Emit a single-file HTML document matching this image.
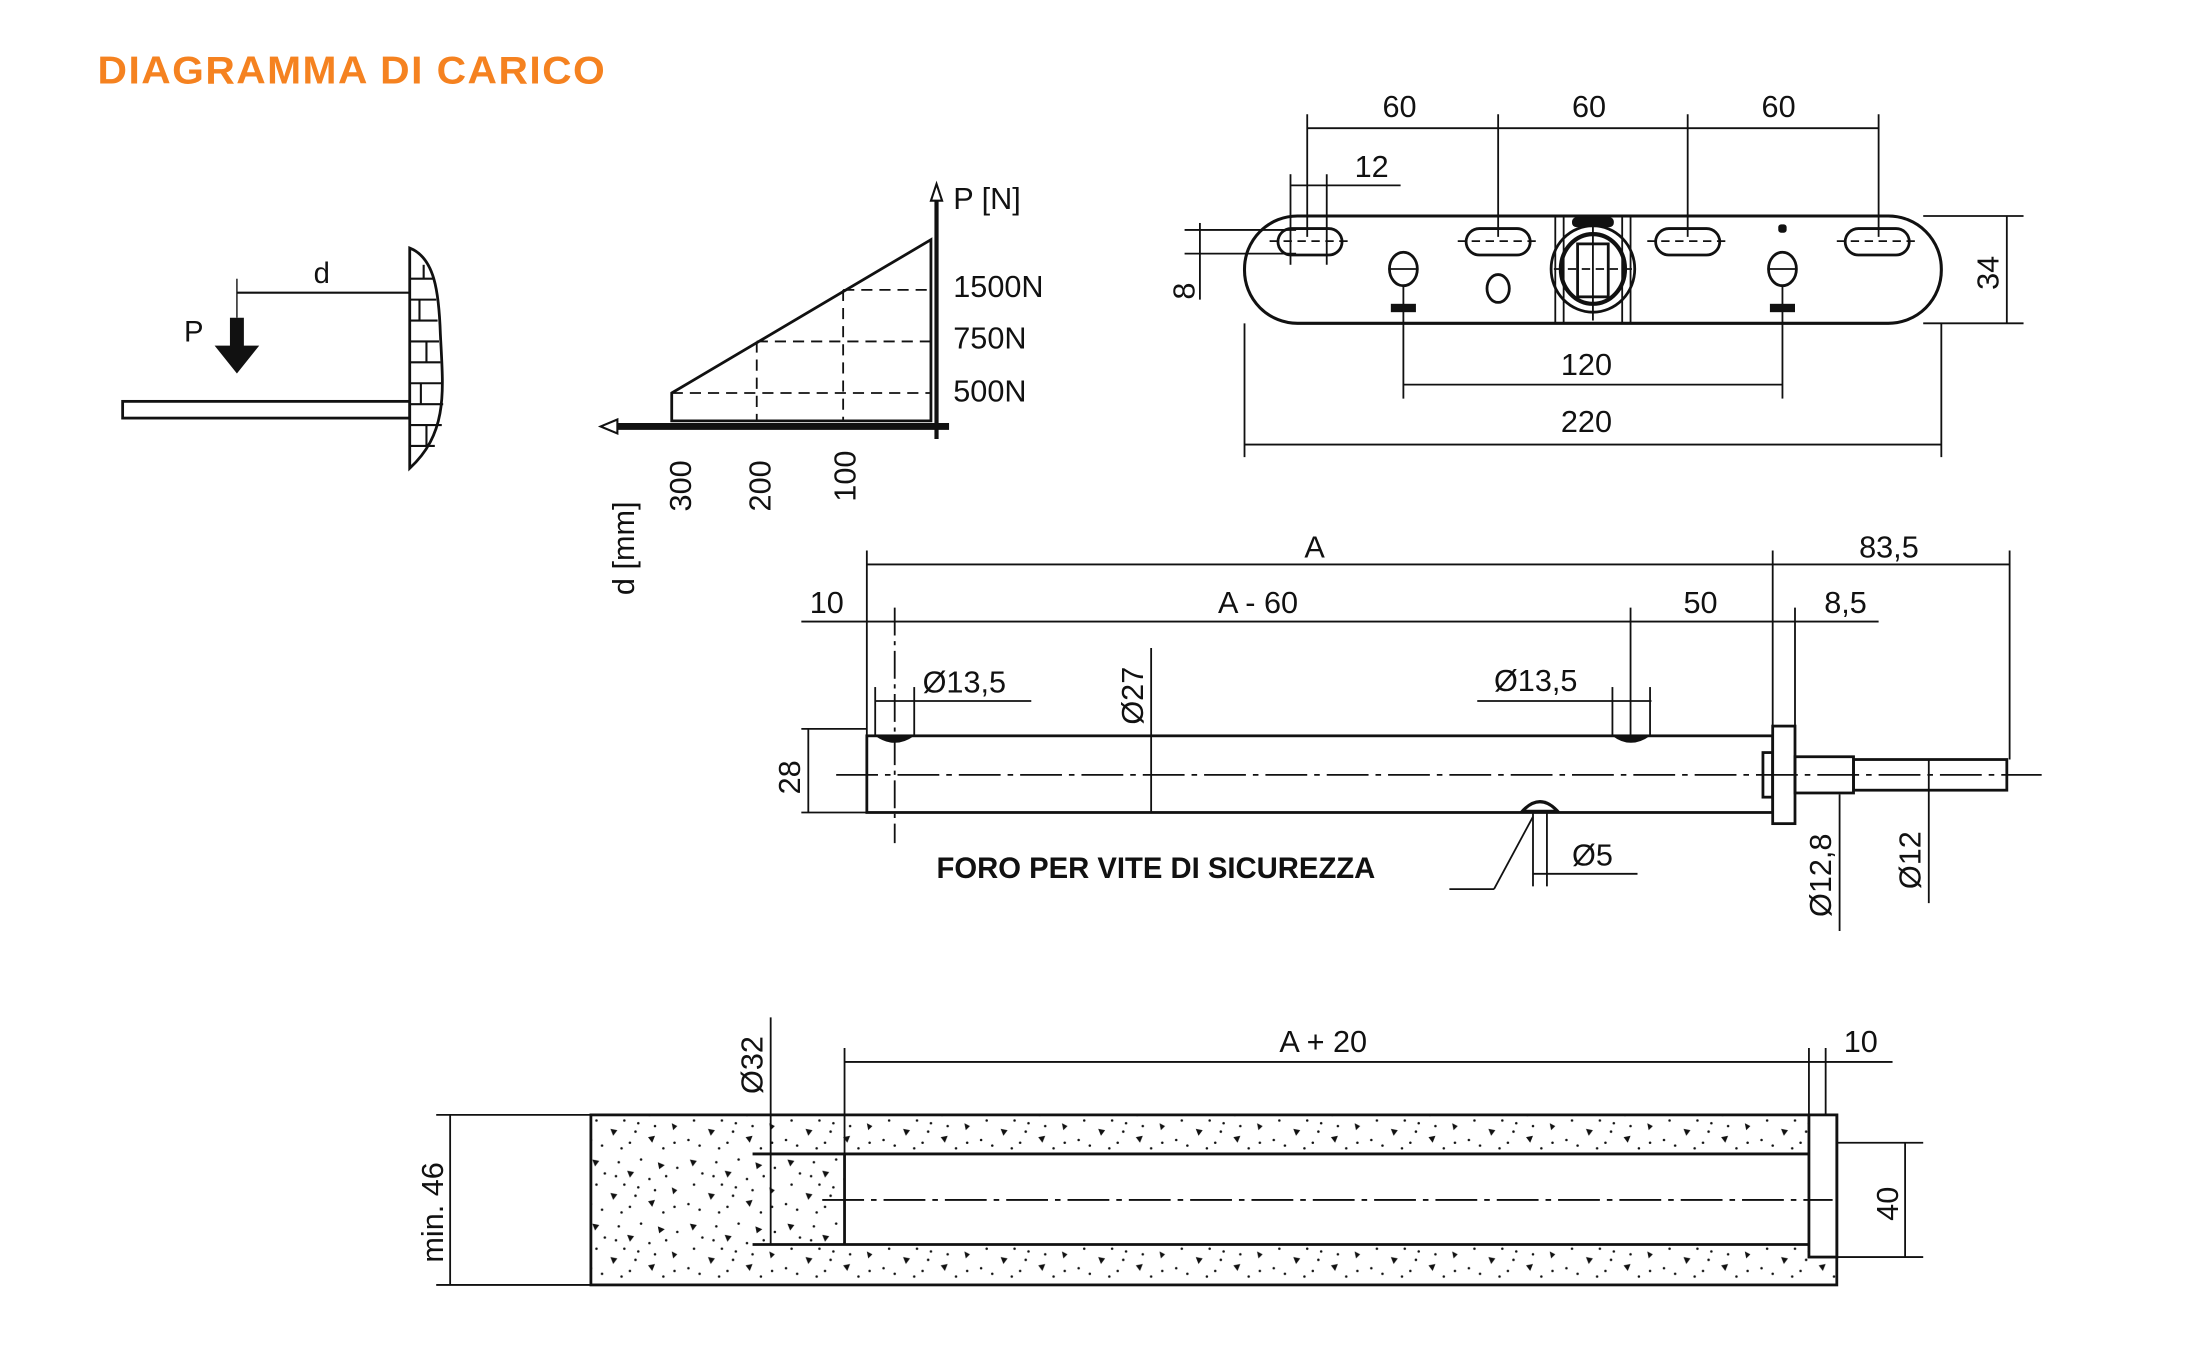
<!DOCTYPE html>
<html><head><meta charset="utf-8"><style>
html,body{margin:0;padding:0;background:#fff}
svg{display:block}
text{font-family:"Liberation Sans",sans-serif;fill:#111}
</style></head><body>
<svg width="2188" height="1356" viewBox="0 0 1570 973" preserveAspectRatio="none" xmlns="http://www.w3.org/2000/svg">
<defs>
<pattern id="conc" width="70" height="46" patternUnits="userSpaceOnUse">
<rect width="70" height="46" fill="#fff"/>
<g fill="#111">
<polygon points="5,4 10,5 7,9"/><polygon points="30,12 35,13 32,17"/><polygon points="52,6 57,8 53,11"/>
<polygon points="18,28 23,29 20,33"/><polygon points="45,34 50,33 48,38"/><polygon points="62,24 66,26 63,29"/>
<circle cx="14" cy="14" r="0.9"/><circle cx="24" cy="6" r="0.9"/><circle cx="40" cy="4" r="0.9"/>
<circle cx="8" cy="22" r="0.9"/><circle cx="28" cy="22" r="0.9"/><circle cx="38" cy="24" r="0.9"/>
<circle cx="58" cy="16" r="0.9"/><circle cx="66" cy="10" r="0.9"/><circle cx="4" cy="36" r="0.9"/>
<circle cx="12" cy="40" r="0.9"/><circle cx="32" cy="38" r="0.9"/><circle cx="56" cy="42" r="0.9"/>
<circle cx="64" cy="38" r="0.9"/><circle cx="46" cy="18" r="0.9"/><circle cx="22" cy="16" r="0.9"/>
<circle cx="36" cy="30" r="0.9"/><circle cx="50" cy="26" r="0.9"/><circle cx="26" cy="42" r="0.9"/>
</g>
</pattern>
</defs>

<text x="70" y="60" font-size="28" font-weight="bold" letter-spacing="1" textLength="365" lengthAdjust="spacingAndGlyphs" style="fill:#f58220">DIAGRAMMA DI CARICO</text>

<!-- left sketch -->
<g stroke="#111" stroke-width="2" fill="none">
<rect x="88" y="288" width="206" height="12" fill="#fff"/>
<path d="M294,178 C312,185 315,210 316,240 C318,280 322,310 294,336 Z" fill="#fff"/>
<g stroke-width="1.5">
<line x1="294" y1="200" x2="312" y2="200"/><line x1="294" y1="215" x2="313" y2="215"/><line x1="294" y1="230" x2="314" y2="230"/>
<line x1="294" y1="245" x2="315" y2="245"/><line x1="294" y1="260" x2="316" y2="260"/><line x1="294" y1="275" x2="317" y2="275"/>
<line x1="294" y1="290" x2="318" y2="290"/><line x1="294" y1="305" x2="317" y2="305"/><line x1="294" y1="320" x2="312" y2="320"/>
<line x1="304" y1="190" x2="304" y2="200"/><line x1="301" y1="215" x2="301" y2="230"/><line x1="306" y1="245" x2="306" y2="260"/>
<line x1="302" y1="275" x2="302" y2="290"/><line x1="306" y1="305" x2="306" y2="320"/>
</g>
<line x1="170" y1="210" x2="294" y2="210" stroke-width="1.5"/>
<line x1="170" y1="200" x2="170" y2="228" stroke-width="1"/>
</g>
<polygon points="165,228 175,228 175,248 186,248 170,268 154,248 165,248" fill="#111"/>
<text x="132" y="245" font-size="21">P</text>
<text x="225" y="203" font-size="21">d</text>

<!-- chart -->
<g stroke="#111" fill="none">
<polygon points="482,282 668,172 668,302 482,302" stroke-width="2"/>
<g stroke-width="1.3" stroke-dasharray="8,5">
<line x1="605" y1="208" x2="668" y2="208"/><line x1="543" y1="245" x2="668" y2="245"/><line x1="482" y1="282" x2="668" y2="282"/>
<line x1="543" y1="245" x2="543" y2="302"/><line x1="605" y1="208" x2="605" y2="302"/>
</g>
<line x1="672" y1="140" x2="672" y2="315" stroke-width="3"/>
<line x1="440" y1="306" x2="681" y2="306" stroke-width="5"/>
</g>
<polygon points="668,144 672,132 676,144" fill="#fff" stroke="#111" stroke-width="1.5"/>
<polygon points="443,301 431,306 443,311" fill="#fff" stroke="#111" stroke-width="1.5"/>
<text x="684" y="150" font-size="22">P [N]</text>
<text x="684" y="213" font-size="22">1500N</text>
<text x="684" y="250" font-size="22">750N</text>
<text x="684" y="288" font-size="22">500N</text>
<text transform="translate(496,367) rotate(-90)" font-size="22">300</text>
<text transform="translate(553,367) rotate(-90)" font-size="22">200</text>
<text transform="translate(614,360) rotate(-90)" font-size="22">100</text>
<text transform="translate(455,427) rotate(-90)" font-size="22">d [mm]</text>

<!-- plate top view -->
<g stroke="#111" fill="none" stroke-width="1.3">
<rect x="893" y="155" width="500" height="77" rx="38" stroke-width="2.2" fill="#fff"/>
<line x1="1116" y1="155" x2="1116" y2="232"/><line x1="1122" y1="155" x2="1122" y2="232"/>
<line x1="1164" y1="155" x2="1164" y2="232"/><line x1="1170" y1="155" x2="1170" y2="232"/>
<g stroke-width="2">
<rect x="917" y="164" width="46" height="19" rx="9.5"/><rect x="1052" y="164" width="46" height="19" rx="9.5"/>
<rect x="1188" y="164" width="46" height="19" rx="9.5"/><rect x="1324" y="164" width="46" height="19" rx="9.5"/>
<ellipse cx="1143" cy="193" rx="30" ry="31"/><ellipse cx="1143" cy="193" rx="23" ry="25" stroke-width="3"/>
<rect x="1132" y="175" width="22" height="38" fill="#fff"/>
<ellipse cx="1007" cy="193" rx="10" ry="12"/><ellipse cx="1279" cy="193" rx="10" ry="12"/>
<ellipse cx="1075" cy="207" rx="8" ry="10"/>
</g>
<line x1="997" y1="193" x2="1017" y2="193"/><line x1="1269" y1="193" x2="1289" y2="193"/>
<line x1="1115" y1="193" x2="1171" y2="193" stroke-dasharray="6,4"/>
<line x1="1143" y1="160" x2="1143" y2="230"/>
<line x1="911" y1="173" x2="969" y2="173" stroke-dasharray="6,4"/><line x1="1046" y1="173" x2="1104" y2="173" stroke-dasharray="6,4"/>
<line x1="1182" y1="173" x2="1240" y2="173" stroke-dasharray="6,4"/><line x1="1318" y1="173" x2="1376" y2="173" stroke-dasharray="6,4"/>
<line x1="938" y1="92" x2="1348" y2="92"/>
<line x1="938" y1="82" x2="938" y2="170"/><line x1="1075" y1="82" x2="1075" y2="170"/>
<line x1="1211" y1="82" x2="1211" y2="170"/><line x1="1348" y1="82" x2="1348" y2="170"/>
<line x1="926" y1="125" x2="926" y2="190"/><line x1="952" y1="125" x2="952" y2="190"/>
<line x1="926" y1="133" x2="1005" y2="133"/>
<line x1="850" y1="165" x2="930" y2="165"/><line x1="850" y1="182" x2="930" y2="182"/>
<line x1="861" y1="160" x2="861" y2="215"/>
<line x1="1380" y1="155" x2="1452" y2="155"/><line x1="1380" y1="232" x2="1452" y2="232"/>
<line x1="1440" y1="155" x2="1440" y2="232"/>
<line x1="1007" y1="205" x2="1007" y2="286"/><line x1="1279" y1="205" x2="1279" y2="286"/>
<line x1="1007" y1="276" x2="1279" y2="276"/>
<line x1="893" y1="232" x2="893" y2="328"/><line x1="1393" y1="232" x2="1393" y2="328"/>
<line x1="893" y1="319" x2="1393" y2="319"/>
</g>
<g fill="#111">
<rect x="1128" y="156" width="30" height="7" rx="3"/>
<rect x="998" y="218" width="18" height="6"/><rect x="1270" y="218" width="18" height="6"/>
<rect x="1276" y="161" width="6" height="6" rx="2"/>
</g>
<text x="992" y="84" font-size="22">60</text>
<text x="1128" y="84" font-size="22">60</text>
<text x="1264" y="84" font-size="22">60</text>
<text x="972" y="127" font-size="22">12</text>
<text transform="translate(857,215) rotate(-90)" font-size="22">8</text>
<text transform="translate(1434,208) rotate(-90)" font-size="22">34</text>
<text x="1120" y="269" font-size="22">120</text>
<text x="1120" y="310" font-size="22">220</text>

<!-- tube -->
<g stroke="#111" fill="none" stroke-width="1.3">
<rect x="622" y="528" width="650" height="55" stroke-width="2" fill="#fff"/>
<rect x="1265" y="540" width="7" height="32" stroke-width="2"/>
<rect x="1272" y="521" width="16" height="70" stroke-width="2" fill="#fff"/>
<rect x="1288" y="543" width="42" height="26" stroke-width="2"/>
<rect x="1330" y="545" width="110" height="22" stroke-width="2"/>
<line x1="600" y1="556" x2="1465" y2="556" stroke-dasharray="30,5,4,5"/>
<line x1="622" y1="395" x2="622" y2="528"/><line x1="1272" y1="395" x2="1272" y2="521"/>
<line x1="1442" y1="395" x2="1442" y2="545"/>
<line x1="622" y1="405" x2="1442" y2="405"/>
<line x1="575" y1="446" x2="1348" y2="446"/>
<line x1="642" y1="436" x2="642" y2="605" stroke-dasharray="20,4,3,4"/>
<line x1="1170" y1="436" x2="1170" y2="528"/><line x1="1288" y1="436" x2="1288" y2="521"/>
<line x1="628" y1="493" x2="628" y2="528"/><line x1="656" y1="493" x2="656" y2="528"/>
<line x1="628" y1="503" x2="740" y2="503"/>
<line x1="1157" y1="493" x2="1157" y2="528"/><line x1="1184" y1="493" x2="1184" y2="528"/>
<line x1="1060" y1="503" x2="1185" y2="503"/>
<line x1="826" y1="465" x2="826" y2="583"/>
<line x1="575" y1="523" x2="622" y2="523"/><line x1="575" y1="583" x2="622" y2="583"/>
<line x1="580" y1="523" x2="580" y2="583"/>
<line x1="1040" y1="638" x2="1072" y2="638"/><line x1="1072" y1="638" x2="1100" y2="586"/>
<line x1="1100" y1="582" x2="1100" y2="636"/><line x1="1110" y1="582" x2="1110" y2="636"/>
<line x1="1100" y1="627" x2="1175" y2="627"/>
<line x1="1320" y1="570" x2="1320" y2="668"/>
<line x1="1384" y1="545" x2="1384" y2="648"/>
</g>
<g fill="#111">
<path d="M628,528 Q642,538 656,528 Z"/><path d="M1157,528 Q1170,538 1184,528 Z"/>
<path d="M1090,583 Q1105,565 1120,583 Z"/>
</g>
<path d="M1095,581 Q1105,572 1115,581" fill="#fff" stroke="none"/>
<text x="936" y="400" font-size="22">A</text>
<text x="1334" y="400" font-size="22">83,5</text>
<text x="581" y="440" font-size="22">10</text>
<text x="874" y="440" font-size="22">A - 60</text>
<text x="1208" y="440" font-size="22">50</text>
<text x="1309" y="440" font-size="22">8,5</text>
<text x="662" y="497" font-size="22">Ø13,5</text>
<text x="1072" y="496" font-size="22">Ø13,5</text>
<text transform="translate(820,520) rotate(-90)" font-size="22">Ø27</text>
<text transform="translate(574,570) rotate(-90)" font-size="22">28</text>
<text x="672" y="630" font-size="21" font-weight="bold">FORO PER VITE DI SICUREZZA</text>
<text x="1128" y="621" font-size="22">Ø5</text>
<text transform="translate(1314,658) rotate(-90)" font-size="22">Ø12,8</text>
<text transform="translate(1378,638) rotate(-90)" font-size="22">Ø12</text>

<!-- concrete -->
<g stroke="#111" fill="none" stroke-width="1.3">
<rect x="424" y="800" width="894" height="122" fill="url(#conc)" stroke-width="2"/>
<rect x="606" y="828" width="692" height="65" fill="#fff" stroke="none"/>
<line x1="540" y1="828" x2="1300" y2="828" stroke-width="2"/>
<line x1="540" y1="893" x2="1300" y2="893" stroke-width="2"/>
<line x1="606" y1="828" x2="606" y2="893" stroke-width="2"/>
<rect x="1298" y="800" width="20" height="102" fill="#fff" stroke-width="2"/>
<line x1="553" y1="730" x2="553" y2="893"/>
<line x1="590" y1="861" x2="1315" y2="861" stroke-dasharray="30,5,4,5"/>
<line x1="606" y1="752" x2="606" y2="828"/>
<line x1="1298" y1="752" x2="1298" y2="800"/><line x1="1310" y1="752" x2="1310" y2="800"/>
<line x1="606" y1="762" x2="1358" y2="762"/>
<line x1="313" y1="800" x2="424" y2="800"/><line x1="313" y1="922" x2="424" y2="922"/>
<line x1="323" y1="800" x2="323" y2="922"/>
<line x1="1318" y1="820" x2="1380" y2="820"/><line x1="1318" y1="902" x2="1380" y2="902"/>
<line x1="1367" y1="820" x2="1367" y2="902"/>
</g>
<text x="918" y="755" font-size="22">A + 20</text>
<text x="1323" y="755" font-size="22">10</text>
<text transform="translate(547,785) rotate(-90)" font-size="22">Ø32</text>
<text transform="translate(318,906) rotate(-90)" font-size="22">min. 46</text>
<text transform="translate(1362,876) rotate(-90)" font-size="22">40</text>
</svg>
</body></html>
